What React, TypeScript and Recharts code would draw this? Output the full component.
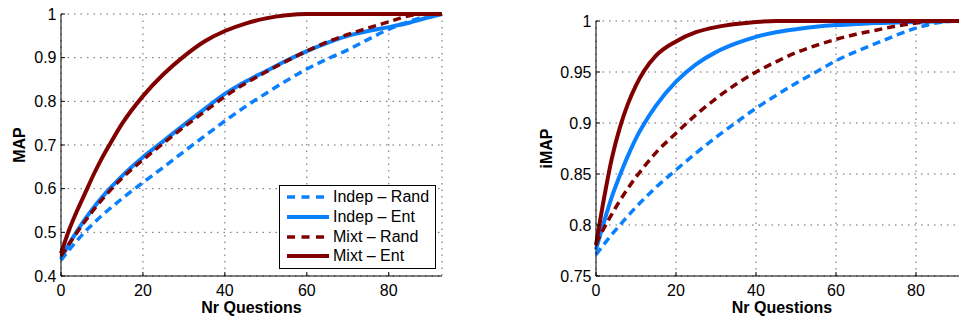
import { LineChart, Line, XAxis, YAxis, CartesianGrid, Legend } from 'recharts';

// number of questions asked (x positions of the sampled points)
const questions = [0, 2, 4, 6, 8, 10, 12, 15, 20, 25, 30, 35, 40, 45, 50, 55, 60, 65, 70, 75, 80, 85, 90, 93];

// left panel: MAP
const mapIndepRand = [0.436, 0.46, 0.482, 0.503, 0.521, 0.539, 0.555, 0.578, 0.614, 0.649, 0.685, 0.72, 0.755, 0.788, 0.818, 0.847, 0.874, 0.897, 0.918, 0.942, 0.965, 0.983, 0.996, 1.0];
const mapIndepEnt = [0.44, 0.474, 0.504, 0.532, 0.557, 0.58, 0.601, 0.63, 0.672, 0.709, 0.746, 0.782, 0.817, 0.845, 0.869, 0.893, 0.915, 0.934, 0.95, 0.961, 0.97, 0.98, 0.993, 1.0];
const mapMixtRand = [0.446, 0.474, 0.501, 0.527, 0.552, 0.575, 0.596, 0.625, 0.666, 0.704, 0.741, 0.776, 0.811, 0.841, 0.867, 0.892, 0.915, 0.936, 0.953, 0.968, 0.982, 0.996, 1.0, 1.0];
const mapMixtEnt = [0.452, 0.506, 0.551, 0.592, 0.633, 0.67, 0.703, 0.75, 0.812, 0.862, 0.903, 0.937, 0.961, 0.978, 0.99, 0.997, 1.0, 1.0, 1.0, 1.0, 1.0, 1.0, 1.0, 1.0];

// right panel: iMAP
const imapIndepRand = [0.771, 0.781, 0.791, 0.8, 0.809, 0.8175, 0.8255, 0.837, 0.854, 0.8705, 0.886, 0.9005, 0.9145, 0.927, 0.939, 0.95, 0.961, 0.97, 0.978, 0.986, 0.993, 0.998, 1.0, 1.0];
const imapIndepEnt = [0.776, 0.803, 0.828, 0.849, 0.868, 0.885, 0.899, 0.917, 0.9405, 0.9575, 0.9695, 0.978, 0.9845, 0.989, 0.992, 0.9944, 0.996, 0.997, 0.998, 0.9985, 0.999, 0.9995, 1.0, 1.0];
const imapMixtRand = [0.782, 0.797, 0.811, 0.824, 0.836, 0.847, 0.857, 0.871, 0.89, 0.908, 0.924, 0.938, 0.95, 0.96, 0.969, 0.976, 0.982, 0.987, 0.991, 0.995, 0.998, 1.0, 1.0, 1.0];
const imapMixtEnt = [0.78, 0.826, 0.866, 0.896, 0.919, 0.937, 0.951, 0.966, 0.98, 0.989, 0.994, 0.997, 0.999, 1.0, 1.0, 1.0, 1.0, 1.0, 1.0, 1.0, 1.0, 1.0, 1.0, 1.0];

const xTicks = [0, 20, 40, 60, 80];
const mapTicks = [0.4, 0.5, 0.6, 0.7, 0.8, 0.9, 1];
const imapTicks = [0.75, 0.8, 0.85, 0.9, 0.95, 1];

const seriesNames = ['Indep – Rand', 'Indep – Ent', 'Mixt – Rand', 'Mixt – Ent'];

const BLUE = '#0a80ff';
const RED = '#800000';
const FONT = '"Liberation Sans", Arial, Helvetica, sans-serif';

const seriesStyle = [
  { key: 'indepRand', color: BLUE, dash: '8 5', width: 3.5 },
  { key: 'indepEnt', color: BLUE, dash: undefined, width: 4 },
  { key: 'mixtRand', color: RED, dash: '8 5', width: 3.5 },
  { key: 'mixtEnt', color: RED, dash: undefined, width: 4 },
];

function buildRows(a: number[], b: number[], c: number[], d: number[]) {
  return questions.map((q, i) => ({
    q,
    indepRand: a[i],
    indepEnt: b[i],
    mixtRand: c[i],
    mixtEnt: d[i],
  }));
}

const mapRows = buildRows(mapIndepRand, mapIndepEnt, mapMixtRand, mapMixtEnt);
const imapRows = buildRows(imapIndepRand, imapIndepEnt, imapMixtRand, imapMixtEnt);

const tickStyle = { fill: '#000', fontSize: 16, fontFamily: FONT };
const labelStyle = { fill: '#000', fontSize: 16, fontWeight: 'bold', fontFamily: FONT, textAnchor: 'middle' as const };

function LegendBox() {
  return (
    <div
      style={{
        width: 155,
        height: 82,
        border: '1.5px solid #000',
        background: '#fff',
        fontFamily: FONT,
        fontSize: 16,
        color: '#000',
        boxSizing: 'content-box',
      }}
    >
      {seriesStyle.map((s, i) => (
        <div key={s.key} style={{ position: 'absolute', left: 0, top: 2 + i * 19.8, height: 20, display: 'flex', alignItems: 'center' }}>
          <svg width={54} height={20} style={{ display: 'block' }}>
            <line x1={8} x2={50} y1={10} y2={10} stroke={s.color} strokeWidth={s.width} strokeDasharray={s.dash ? '8 6.5' : undefined} />
          </svg>
          <span style={{ whiteSpace: 'nowrap', lineHeight: '20px' }}>{seriesNames[i]}</span>
        </div>
      ))}
    </div>
  );
}

function Panel({ rows, yTicks, yLabel, width, yAxisWidth, top, labelOffset, legend }: any) {
  return (
    <LineChart
      width={width}
      height={320}
      data={rows}
      margin={{ top, right: width - (width === 480 ? 442 : 488), bottom: 0, left: 0 }}
    >
      <CartesianGrid stroke="#666" strokeDasharray="1.5 5" />
      <XAxis
        dataKey="q"
        type="number"
        domain={[0, 93]}
        ticks={xTicks}
        height={44}
        tick={tickStyle}
        axisLine={{ stroke: '#000' }}
        tickLine={{ stroke: '#000' }}
        tickSize={-4}
        tickMargin={13}
        label={{ value: 'Nr Questions', position: 'insideBottom', offset: 7, style: labelStyle }}
      />
      <YAxis
        type="number"
        domain={[yTicks[0], 1]}
        ticks={yTicks}
        width={yAxisWidth}
        tick={tickStyle}
        tickFormatter={(v: number) => String(v)}
        axisLine={{ stroke: '#000' }}
        tickLine={{ stroke: '#000' }}
        tickSize={-4}
        tickMargin={8.5}
        label={{ value: yLabel, angle: -90, position: 'insideLeft', offset: labelOffset, style: labelStyle }}
      />
      {seriesStyle.map((s) => (
        <Line
          key={s.key}
          type="monotone"
          dataKey={s.key}
          stroke={s.color}
          strokeWidth={s.width}
          strokeDasharray={s.dash}
          dot={false}
          activeDot={false}
          isAnimationActive={false}
        />
      ))}
      {legend && (
        <Legend
          layout="vertical"
          align="center"
          verticalAlign="middle"
          content={() => <LegendBox />}
          wrapperStyle={{ position: 'absolute', left: 279, top: 185, width: 158, height: 85 }}
        />
      )}
    </LineChart>
  );
}

export default function App() {
  return (
    <div style={{ position: 'absolute', left: 0, top: 0, width: 959, height: 320, overflow: 'hidden', background: '#fff' }}>
      <div style={{ position: 'absolute', left: 0, top: 0 }}>
        <Panel rows={mapRows} yTicks={mapTicks} yLabel="MAP" width={480} yAxisWidth={61} top={14} labelOffset={19} legend />
      </div>
      <div style={{ position: 'absolute', left: 480, top: 0 }}>
        <Panel rows={imapRows} yTicks={imapTicks} yLabel="iMAP" width={520} yAxisWidth={116} top={21} labelOffset={66} legend={false} />
      </div>
    </div>
  );
}
